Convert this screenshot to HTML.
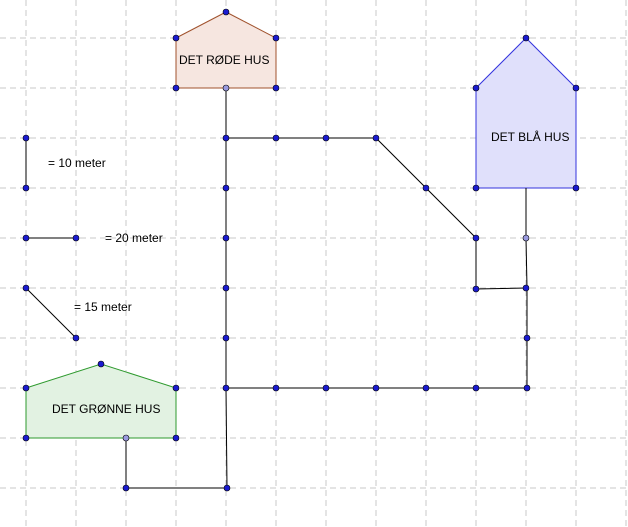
<!DOCTYPE html>
<html><head><style>body{margin:0;background:#fff}svg{display:block}</style></head><body>
<svg width="628" height="527" xmlns="http://www.w3.org/2000/svg" font-family="Liberation Sans, sans-serif" font-size="12">
<g stroke="#c8c8c8" stroke-dasharray="6,4" stroke-width="1">
<line x1="26" y1="0" x2="26" y2="527"/><line x1="76" y1="0" x2="76" y2="527"/><line x1="126" y1="0" x2="126" y2="527"/><line x1="176" y1="0" x2="176" y2="527"/><line x1="226" y1="0" x2="226" y2="527"/><line x1="276" y1="0" x2="276" y2="527"/><line x1="326" y1="0" x2="326" y2="527"/><line x1="376" y1="0" x2="376" y2="527"/><line x1="426" y1="0" x2="426" y2="527"/><line x1="476" y1="0" x2="476" y2="527"/><line x1="526" y1="0" x2="526" y2="527"/><line x1="576" y1="0" x2="576" y2="527"/><line x1="626" y1="0" x2="626" y2="527"/>
<line x1="0" y1="38" x2="628" y2="38"/><line x1="0" y1="88" x2="628" y2="88"/><line x1="0" y1="138" x2="628" y2="138"/><line x1="0" y1="188" x2="628" y2="188"/><line x1="0" y1="238" x2="628" y2="238"/><line x1="0" y1="288" x2="628" y2="288"/><line x1="0" y1="338" x2="628" y2="338"/><line x1="0" y1="388" x2="628" y2="388"/><line x1="0" y1="438" x2="628" y2="438"/><line x1="0" y1="488" x2="628" y2="488"/>
</g>
<polygon points="176,38 226,12 276,38 276,88 176,88" fill="#f6e6e0" stroke="#a0522d"/>
<polygon points="476,88 526,38 576,88 576,188 476,188" fill="#e0e0fb" stroke="#3333dd"/>
<polygon points="26,388 101,364 176,388 176,438 26,438" fill="#e2f2e2" stroke="#2e9a2e"/>
<g stroke="#000" fill="none" stroke-width="1">
<polyline points="226,88 226,388 227,488 126,488 126,438"/>
<polyline points="226,138 376,138 476,238 476,289 526,288"/>
<polyline points="526,188 526,238 527,288 527,388 226,388"/>
<line x1="26" y1="138" x2="26" y2="188"/><line x1="26" y1="238" x2="76" y2="238"/><line x1="26" y1="288" x2="76" y2="338"/>
</g>
<g fill="#1a1ad0" stroke="#000" stroke-width="0.6">
<circle cx="176" cy="38" r="3"/><circle cx="226" cy="12" r="3"/><circle cx="276" cy="38" r="3"/><circle cx="276" cy="88" r="3"/><circle cx="176" cy="88" r="3"/>
<circle cx="476" cy="88" r="3"/><circle cx="526" cy="38" r="3"/><circle cx="576" cy="88" r="3"/><circle cx="576" cy="188" r="3"/><circle cx="476" cy="188" r="3"/>
<circle cx="26" cy="388" r="3"/><circle cx="101" cy="364" r="3"/><circle cx="176" cy="388" r="3"/><circle cx="176" cy="438" r="3"/><circle cx="26" cy="438" r="3"/>
<circle cx="226" cy="138" r="3"/><circle cx="276" cy="138" r="3"/><circle cx="326" cy="138" r="3"/><circle cx="376" cy="138" r="3"/><circle cx="426" cy="188" r="3"/><circle cx="476" cy="238" r="3"/><circle cx="476" cy="289" r="3"/><circle cx="526" cy="288" r="3"/>
<circle cx="226" cy="188" r="3"/><circle cx="226" cy="238" r="3"/><circle cx="226" cy="288" r="3"/><circle cx="226" cy="338" r="3"/><circle cx="226" cy="388" r="3"/><circle cx="227" cy="488" r="3"/><circle cx="126" cy="488" r="3"/>
<circle cx="276" cy="388" r="3"/><circle cx="326" cy="388" r="3"/><circle cx="376" cy="388" r="3"/><circle cx="426" cy="388" r="3"/><circle cx="476" cy="388" r="3"/><circle cx="527" cy="388" r="3"/><circle cx="527" cy="338" r="3"/>
<circle cx="26" cy="138" r="3"/><circle cx="26" cy="188" r="3"/><circle cx="26" cy="238" r="3"/><circle cx="76" cy="238" r="3"/><circle cx="26" cy="288" r="3"/><circle cx="76" cy="338" r="3"/>
</g>
<g fill="#9a9ae0" stroke="#000" stroke-width="0.6">
<circle cx="226" cy="88" r="3"/><circle cx="526" cy="238" r="3"/><circle cx="126" cy="438" r="3"/>
</g>
<g fill="#000">
<text x="179" y="64">DET RØDE HUS</text>
<text x="491" y="141">DET BLÅ HUS</text>
<text x="52" y="413">DET GRØNNE HUS</text>
<text x="48" y="167">= 10 meter</text>
<text x="105" y="242">= 20 meter</text>
<text x="74" y="311">= 15 meter</text>
</g>
</svg>
</body></html>
